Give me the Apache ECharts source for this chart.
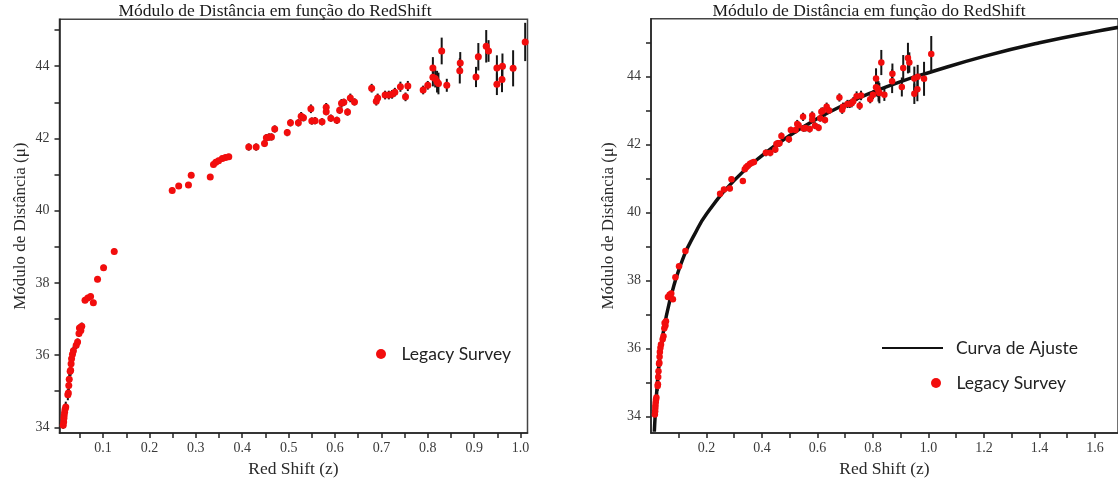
<!DOCTYPE html>
<html lang="pt">
<head>
    <meta charset="UTF-8">
    <title>Módulo de Distância em função do RedShift</title>
    <script src="https://cdn.jsdelivr.net/npm/echarts@6/dist/echarts.min.js"></script>
    <style>
        body { margin: 0; background: #fff; }
        #main { width: 1118px; height: 483px; }
    </style>
</head>
<body>
<div id="main"></div>
<script type="text/javascript">
    // red shift (z) de cada supernova
    var redShift = [
        0.014, 0.015, 0.0155, 0.016, 0.017, 0.018, 0.0195, 0.024, 0.025, 0.026, 0.027, 0.029, 0.030, 0.031, 0.032,
        0.034, 0.036, 0.042, 0.045, 0.048, 0.049, 0.052, 0.054, 0.061, 0.067, 0.073, 0.079, 0.088, 0.101, 0.124,
        0.249, 0.263, 0.284, 0.290, 0.331, 0.338, 0.343, 0.349, 0.357, 0.364, 0.371,
        0.414, 0.430, 0.448, 0.452, 0.458, 0.463, 0.470, 0.497, 0.504, 0.521, 0.527, 0.532, 0.548, 0.550, 0.557,
        0.572, 0.581, 0.581, 0.591, 0.604, 0.610, 0.614, 0.619, 0.627, 0.633, 0.642,
        0.679, 0.689, 0.692, 0.708, 0.716, 0.723, 0.729, 0.741, 0.752, 0.757, 0.790, 0.800,
        0.811, 0.811, 0.816, 0.820, 0.823, 0.830, 0.841, 0.869, 0.870, 0.904, 0.909, 0.926, 0.931, 0.949, 0.949,
        0.960, 0.961, 0.984, 1.010
    ];
    // modulo de distancia (mu)
    var modulo = [
        34.06, 34.15, 34.25, 34.33, 34.42, 34.50, 34.56, 34.90, 34.95, 35.16, 35.33, 35.55, 35.58, 35.76, 35.90,
        36.02, 36.12, 36.27, 36.36, 36.60, 36.75, 36.68, 36.80, 37.52, 37.58, 37.62, 37.45, 38.10, 38.42, 38.87,
        40.56, 40.68, 40.71, 40.98, 40.93, 41.28, 41.34, 41.38, 41.44, 41.47, 41.49,
        41.76, 41.76, 41.86, 42.02, 42.04, 42.04, 42.26, 42.16, 42.43, 42.43, 42.61, 42.57, 42.82, 42.48, 42.49,
        42.46, 42.86, 42.74, 42.56, 42.50, 42.78, 42.97, 43.00, 42.73, 43.12, 43.01,
        43.39, 43.03, 43.12, 43.20, 43.20, 43.22, 43.28, 43.43, 43.15, 43.45, 43.34, 43.47,
        43.95, 43.69, 43.66, 43.57, 43.52, 44.42, 43.47, 43.87, 44.09, 43.70, 44.26, 44.55, 44.42, 43.50, 43.95,
        43.63, 44.00, 43.94, 44.67
    ];
    // erro de mu
    var erro = [
        0.10, 0.10, 0.12, 0.12, 0.12, 0.15, 0.15, 0.15, 0.12, 0.15, 0.15, 0.12, 0.15, 0.15, 0.12,
        0.12, 0.12, 0.10, 0.10, 0.10, 0.10, 0.10, 0.10, 0.08, 0.08, 0.08, 0.08, 0.08, 0.08, 0.08,
        0.08, 0.08, 0.08, 0.08, 0.08, 0.08, 0.08, 0.08, 0.08, 0.08, 0.08,
        0.10, 0.10, 0.10, 0.10, 0.10, 0.10, 0.10, 0.10, 0.10, 0.10, 0.12, 0.10, 0.12, 0.10, 0.10,
        0.10, 0.12, 0.10, 0.10, 0.10, 0.10, 0.12, 0.10, 0.10, 0.12, 0.10,
        0.12, 0.12, 0.12, 0.12, 0.12, 0.12, 0.12, 0.14, 0.12, 0.14, 0.12, 0.12,
        0.30, 0.25, 0.25, 0.30, 0.30, 0.37, 0.18, 0.35, 0.30, 0.28, 0.38, 0.45, 0.30, 0.30, 0.35,
        0.35, 0.35, 0.50, 0.53
    ];
    var curvaZ  = [0.012, 0.015, 0.020, 0.033, 0.055, 0.086, 0.120, 0.155, 0.200, 0.300, 0.400, 0.500,
                   0.600, 0.700, 0.800, 0.900, 1.000, 1.200, 1.400, 1.600, 1.800];
    var curvaMu = [33.55, 34.02, 34.66, 35.85, 36.95, 37.95, 38.75, 39.33, 39.96, 40.95, 41.68, 42.27,
                   42.77, 43.19, 43.55, 43.86, 44.12, 44.60, 45.00, 45.33, 45.62];

    var pontos = [], barras = [], curva = [];
    for (var i = 0; i < redShift.length; i++) {
        pontos.push([redShift[i], modulo[i]]);
        barras.push([redShift[i], modulo[i] - erro[i], modulo[i] + erro[i]]);
    }
    for (var j = 0; j < curvaZ.length; j++) {
        curva.push([curvaZ[j], curvaMu[j]]);
    }

    var serif = '"Liberation Serif", "DejaVu Serif", serif';
    var sans = 'Lato, "Noto Sans", sans-serif';

    function near(v, step) {
        var k = v / step;
        return Math.abs(k - Math.round(k)) < 1e-6;
    }
    function labelY(v) {
        if (!near(v, 1) || Math.round(v) % 2 !== 0) return '';
        return String(Math.round(v));
    }
    function labelXleft(v) {
        if (v < 0.05 || !near(v, 0.1)) return '';
        return v.toFixed(1);
    }
    function labelXright(v) {
        if (v < 0.05 || !near(v, 0.2)) return '';
        return v.toFixed(1);
    }

    function renderBarra(params, api) {
        var p1 = api.coord([api.value(0), api.value(1)]);
        var p2 = api.coord([api.value(0), api.value(2)]);
        return {
            type: 'line',
            shape: { x1: p1[0], y1: p1[1], x2: p2[0], y2: p2[1] },
            style: { stroke: '#151515', lineWidth: 2 }
        };
    }

    function eixoX(idx, min, max, step, fmt) {
        return {
            type: 'value', gridIndex: idx, min: min, max: max,
            minInterval: step, maxInterval: step, splitNumber: 20,
            name: 'Red Shift (z)', nameLocation: 'middle', nameGap: 26,
            nameTextStyle: { fontFamily: serif, fontSize: 17.5, color: '#2a2a2a' },
            axisLine: { lineStyle: { color: '#222', width: 1.5 } },
            axisTick: { length: 5, lineStyle: { color: '#222', width: 1.5 } },
            axisLabel: { margin: 8, formatter: fmt, fontFamily: serif, fontSize: 14, color: '#3a3a3a',
                         showMinLabel: false, showMaxLabel: false },
            splitLine: { show: false }
        };
    }
    function eixoY(idx, min, max, gap) {
        return {
            type: 'value', gridIndex: idx, min: min, max: max,
            minInterval: 1, maxInterval: 1, splitNumber: 12,
            name: 'Módulo de Distância (μ)', nameLocation: 'middle', nameGap: gap,
            nameTextStyle: { fontFamily: serif, fontSize: 17, color: '#2a2a2a' },
            axisLine: { lineStyle: { color: '#222', width: 1.5 } },
            axisTick: { length: 5, lineStyle: { color: '#222', width: 1.5 } },
            axisLabel: { margin: 10, formatter: labelY, fontFamily: serif, fontSize: 14, color: '#3a3a3a',
                         showMinLabel: false, showMaxLabel: false },
            splitLine: { show: false }
        };
    }

    var myChart = echarts.init(document.getElementById('main'));
    myChart.setOption({
        backgroundColor: '#fff',
        animation: false,
        title: [
            { text: 'Módulo de Distância em função do RedShift', left: 270, top: -3, textAlign: 'center',
              textStyle: { fontFamily: serif, fontSize: 17.5, fontWeight: 'normal', color: '#1a1a1a' } },
            { text: 'Módulo de Distância em função do RedShift', left: 864, top: -3, textAlign: 'center',
              textStyle: { fontFamily: serif, fontSize: 17.5, fontWeight: 'normal', color: '#1a1a1a' } }
        ],
        legend: [
            { data: ['Legacy Survey'], left: 371, top: 340, orient: 'vertical',
              itemWidth: 31, itemHeight: 10, icon: 'circle',
              textStyle: { fontFamily: sans, fontSize: 17.5, color: '#222' } },
            { data: ['Curva de Ajuste'], left: 877, top: 334, orient: 'vertical',
              itemWidth: 61, itemHeight: 20, icon: 'path://M0,0H61V2H0Z',
              textStyle: { fontFamily: sans, fontSize: 17.5, color: '#222', padding: [0, 0, 10, 8] } },
            { data: ['Legacy Survey '], left: 926, top: 369, orient: 'vertical',
              itemWidth: 31, itemHeight: 10, icon: 'circle',
              textStyle: { fontFamily: sans, fontSize: 17.5, color: '#222' },
              formatter: function (n) { return n.trim(); } }
        ],
        grid: [
            { left: 59.5, top: 19.2, width: 468, height: 414.3, show: true, borderColor: '#444', borderWidth: 1.5 },
            { left: 651, top: 18.7, width: 473, height: 416, show: true, borderColor: '#444', borderWidth: 1.5 }
        ],
        xAxis: [
            eixoX(0, 0.006, 1.015, 0.05, labelXleft),
            eixoX(1, 0, 1.683, 0.1, labelXright)
        ],
        yAxis: [
            eixoY(0, 33.84, 45.30, 30),
            eixoY(1, 33.51, 45.71, 34)
        ],
        series: [
            { type: 'custom', name: 'erro', xAxisIndex: 0, yAxisIndex: 0, renderItem: renderBarra,
              encode: { x: 0, y: [1, 2] }, data: barras, z: 2 },
            { type: 'scatter', name: 'Legacy Survey', xAxisIndex: 0, yAxisIndex: 0, data: pontos,
              symbolSize: 7, itemStyle: { color: '#f20d0d', opacity: 1 }, z: 3 },
            { type: 'line', name: 'Curva de Ajuste', xAxisIndex: 1, yAxisIndex: 1, data: curva,
              smooth: true, showSymbol: false, symbol: 'none',
              lineStyle: { color: '#111', width: 3.5 }, itemStyle: { color: '#111' }, z: 1 },
            { type: 'custom', name: 'erro2', xAxisIndex: 1, yAxisIndex: 1, renderItem: renderBarra,
              encode: { x: 0, y: [1, 2] }, data: barras, z: 2 },
            { type: 'scatter', name: 'Legacy Survey ', xAxisIndex: 1, yAxisIndex: 1, data: pontos,
              symbolSize: 6.5, itemStyle: { color: '#f20d0d', opacity: 1 }, z: 3 }
        ]
    });
</script>
</body>
</html>
